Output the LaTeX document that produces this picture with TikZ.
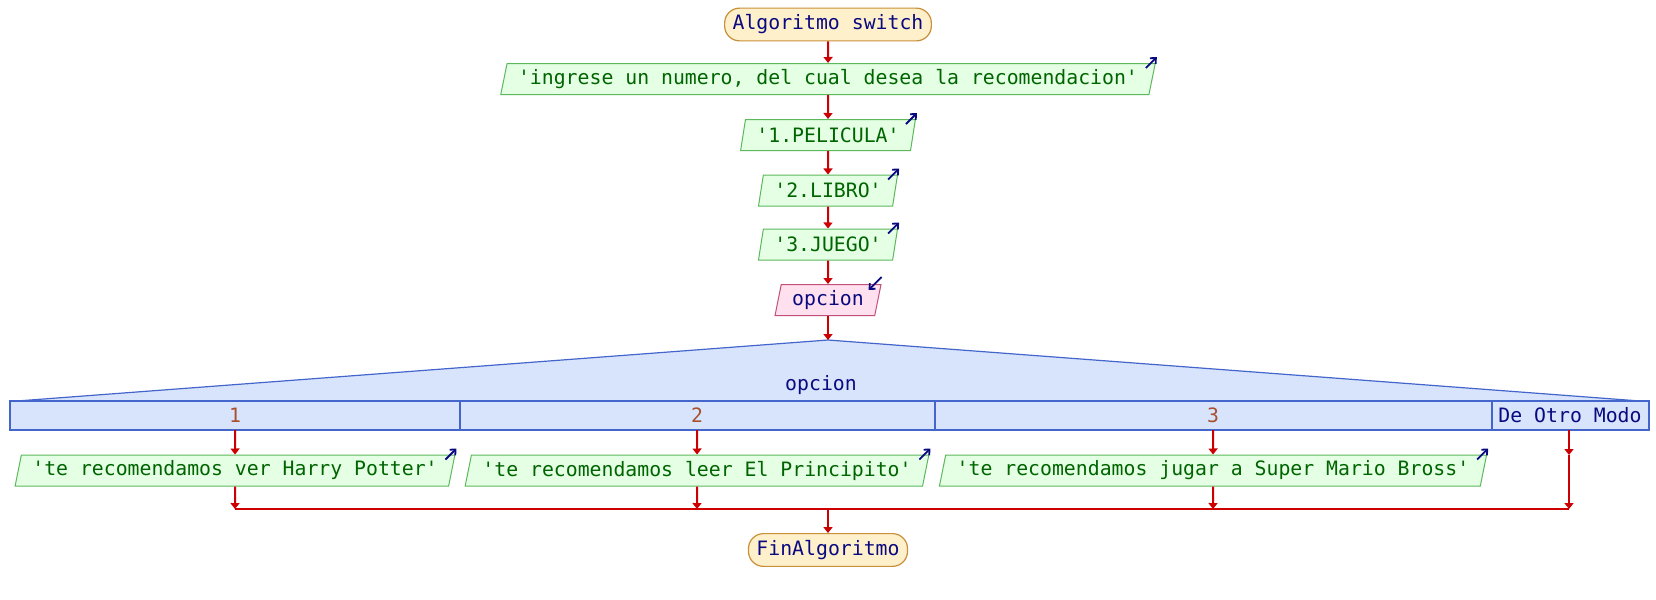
\documentclass[tikz,border=0pt]{standalone}
\usepackage{fontspec}
\setmonofont{DejaVu Sans Mono}
\usetikzlibrary{shapes.geometric,arrows.meta}
\definecolor{rojo}{HTML}{CC0000}
\definecolor{azul}{HTML}{0A0A80}
\definecolor{verde}{HTML}{006400}
\definecolor{caso}{HTML}{A8502E}
\definecolor{bordeini}{HTML}{C89038}
\definecolor{fondoini}{HTML}{FFF0CC}
\definecolor{bordesal}{HTML}{5CB85C}
\definecolor{fondosal}{HTML}{E4FFE4}
\definecolor{bordeent}{HTML}{C0507A}
\definecolor{fondoent}{HTML}{FFE0EE}
\definecolor{bordesw}{HTML}{4466CC}
\definecolor{fondosw}{HTML}{D8E4FC}
\tikzset{
  txt/.style={font=\ttfamily\fontsize{9.9}{12}\selectfont},
  extremo/.style={txt, draw=bordeini, fill=fondoini, line width=0.6pt,
    rounded corners=7.5pt, minimum height=15pt, inner xsep=4pt, text=azul},
  salida/.style={txt, trapezium, trapezium left angle=72, trapezium right angle=108,
    trapezium stretches body, draw=bordesal, fill=fondosal, line width=0.5pt,
    minimum height=15.5pt, inner ysep=0pt, inner xsep=5.5pt, text=verde},
  entrada/.style={salida, draw=bordeent, fill=fondoent, text=azul},
  flecha/.style={rojo, line width=1pt, -{Triangle[length=3pt,width=4.5pt]}},
  linea/.style={rojo, line width=1pt},
  ind/.style={azul, line width=0.9pt, -{Straight Barb[length=2.2pt,width=4pt]}},
  sw/.style={draw=bordesw, fill=fondosw, line width=0.6pt}
}
\begin{document}
\begin{tikzpicture}[x=0.5pt, y=-0.5pt]
	\useasboundingbox (0,0) rectangle (1656,600);
	% Inicio y lectura
	\node[extremo] (ini) at (828,24.5) {Algoritmo switch};
	\node[salida] (msg) at (828,79) {'ingrese un numero, del cual desea la recomendacion'};
	\node[salida] (op1) at (828,135) {'1.PELICULA'};
	\node[salida] (op2) at (828,190.5) {'2.LIBRO'};
	\node[salida] (op3) at (828,244.5) {'3.JUEGO'};
	\node[entrada] (leer) at (828,300) {opcion};
	\draw[flecha] (ini) -- (msg);
	\draw[flecha] (msg) -- (op1);
	\draw[flecha] (op1) -- (op2);
	\draw[flecha] (op2) -- (op3);
	\draw[flecha] (op3) -- (leer);
	\foreach \n in {msg,op1,op2,op3}
		\draw[ind] ([xshift=-5pt,yshift=-2.5pt]\n.top right corner) -- ++(5.5pt,5.5pt);
	\draw[ind] ([yshift=3.5pt]leer.top right corner) -- ++(-6.5pt,-6.5pt);
	% Segun
	\coordinate (sw) at (828,340);
	\filldraw[sw] (17,401) -- (sw) -- (1640,401) -- cycle;
	\filldraw[sw] (10,401) rectangle (1649,430);
	\draw[sw] (460,401) -- (460,430) (935,401) -- (935,430) (1492,401) -- (1492,430);
	\draw[flecha] (leer) -- (sw);
	\node[txt, text=azul] (var) at (821,385) {opcion};
	\node[txt, text=caso] (c1) at (235,415.5) {1};
	\node[txt, text=caso] (c2) at (697,415.5) {2};
	\node[txt, text=caso] (c3) at (1213,415.5) {3};
	\node[txt, text=azul] (c4) at (1570,415.5) {De Otro Modo};
	% Casos
	\node[salida] (s1) at (235,470.5) {'te recomendamos ver Harry Potter'};
	\node[salida] (s2) at (697,470.5) {'te recomendamos leer El Principito'};
	\node[salida] (s3) at (1213,470.5) {'te recomendamos jugar a Super Mario Bross'};
	\foreach \n in {s1,s2,s3}
		\draw[ind] ([xshift=-5pt,yshift=-2.5pt]\n.top right corner) -- ++(5.5pt,5.5pt);
	\coordinate (b1) at (235,430);
	\coordinate (b2) at (697,430);
	\coordinate (b3) at (1213,430);
	\coordinate (b4) at (1569,430);
	\coordinate (d4) at (1569,455);
	\coordinate (m1) at (235,509);
	\coordinate (m2) at (697,509);
	\coordinate (m3) at (1213,509);
	\coordinate (m4) at (1569,509);
	\coordinate (mc) at (828,509);
	\draw[flecha] (b1) -- (s1);
	\draw[flecha] (b2) -- (s2);
	\draw[flecha] (b3) -- (s3);
	\draw[flecha] (b4) -- (d4);
	\draw[flecha] (s1) -- (m1);
	\draw[flecha] (s2) -- (m2);
	\draw[flecha] (s3) -- (m3);
	\draw[flecha] (d4) -- (m4);
	\draw[linea] (m1) -- (m4);
	% Fin
	\node[extremo] (fin) at (828,550) {FinAlgoritmo};
	\draw[flecha] (mc) -- (fin);
\end{tikzpicture}
\end{document}
